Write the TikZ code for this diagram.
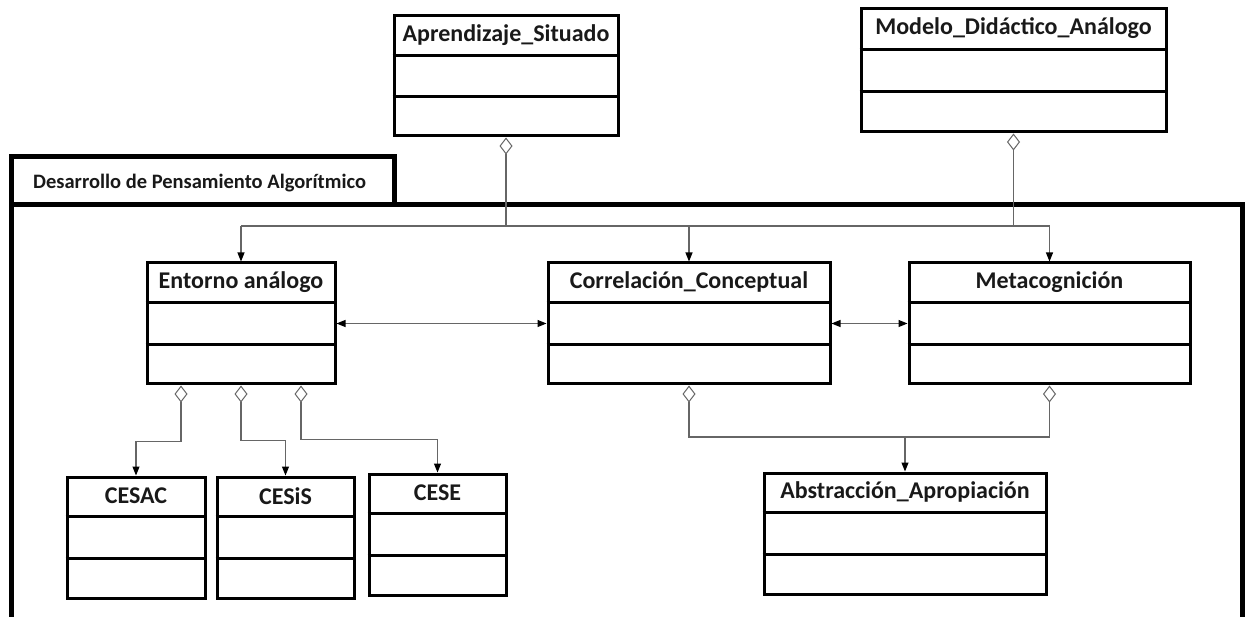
\documentclass[tikz,border=0pt]{standalone}
\usepackage{fontspec}
\setmainfont{Carlito}
\usetikzlibrary{arrows.meta,fit,calc}
\tikzset{
  umlbox/.style={draw=black, line width=3pt, inner sep=0pt, fill=white},
  divider/.style={line width=3pt, draw=black},
  umltitle/.style={font=\bfseries\fontsize{24}{28}\selectfont, text=black!90, inner sep=0pt},
  pkgtitle/.style={font=\bfseries\fontsize{20.5}{24}\selectfont, text=black!90, inner sep=0pt, anchor=base west},
  conn/.style={draw=black!60, line width=1.1pt},
  aggr/.style={{Diamond[open,length=17pt,width=13pt,line width=1pt]}-},
  aggrarr/.style={{Diamond[open,length=17pt,width=13pt,line width=1pt]}-{Triangle[length=9pt,width=7pt,color=black]}},
  arr/.style={-{Triangle[length=9pt,width=7pt,color=black]}},
  bidir/.style={{Triangle[length=9pt,width=7pt,color=black]}-{Triangle[length=9pt,width=7pt,color=black]}},
  pkgframe/.style={draw=black, line width=5pt, line join=miter},
}
\newcommand\umlclass[6]{%
  \node[umlbox, fit={(#2,#3) (#4,#5)}] (#1) {};
  \draw[divider] ($(#1.north west)!1/3!(#1.south west)$) -- ($(#1.north east)!1/3!(#1.south east)$);
  \draw[divider] ($(#1.north west)!2/3!(#1.south west)$) -- ($(#1.north east)!2/3!(#1.south east)$);
  \node[umltitle] (#1-t) at ($(#1.north)!1/6!(#1.south)$) {#6};
}
\begin{document}
\begin{tikzpicture}[x=1pt,y=-1pt]
\path[fill=white, use as bounding box] (0,0) rectangle (1248,617);

% package frame
\draw[pkgframe] (11,630) -- (11,205) -- (1242,205) -- (1242,630);
\draw[pkgframe] (11,157) rectangle (394,205);
\node[pkgtitle] (pkg) at (33,189) {Desarrollo de Pensamiento Algorítmico};

% classes
\umlclass{AS}{394}{16}{618}{136}{Aprendizaje\_Situado}
\umlclass{MDA}{861}{9}{1166}{132}{Modelo\_Didáctico\_Análogo}
\umlclass{EA}{147}{263}{335}{384}{Entorno análogo}
\umlclass{CC}{548}{263}{830}{384}{Correlación\_Conceptual}
\umlclass{MC}{909}{263}{1190}{384}{Metacognición}
\umlclass{CESAC}{67}{477}{205}{598}{CESAC}
\umlclass{CESiS}{217}{477}{354}{598}{CESiS}
\umlclass{CESE}{369}{474}{506}{595}{CESE}
\umlclass{AA}{764}{473}{1046}{594}{Abstracción\_Apropiación}

% upper aggregations onto a common bus
\coordinate (bus) at (0,226);
\draw[conn, aggr] (AS.south) -- (AS.south |- bus);
\draw[conn, aggr] (MDA.south) -- (MDA.south |- bus);
\draw[conn] (EA.north |- bus) -- (MC.north |- bus);
\draw[conn, arr] (EA.north |- bus) -- (EA.north);
\draw[conn, arr] (CC.north |- bus) -- (CC.north);
\draw[conn, arr] (MC.north |- bus) -- (MC.north);

% associations
\draw[conn, bidir] (EA.east) -- (CC.west);
\draw[conn, bidir] (CC.east) -- (MC.west);

% Entorno analogo parts
\draw[conn, aggrarr] ([xshift=-60pt]EA.south) -- ++(0,56) -| (CESAC.north);
\draw[conn, aggrarr] (EA.south) -- ++(0,55) -| (CESiS.north);
\draw[conn, aggrarr] ([xshift=60pt]EA.south) -- ++(0,54) -| (CESE.north);

% lower aggregation
\coordinate (j2) at (AA.north |- 0,437);
\draw[conn, aggr] (CC.south) |- (j2);
\draw[conn, aggr] (MC.south) |- (j2);
\draw[conn, arr] (j2) -- (AA.north);
\end{tikzpicture}
\end{document}
